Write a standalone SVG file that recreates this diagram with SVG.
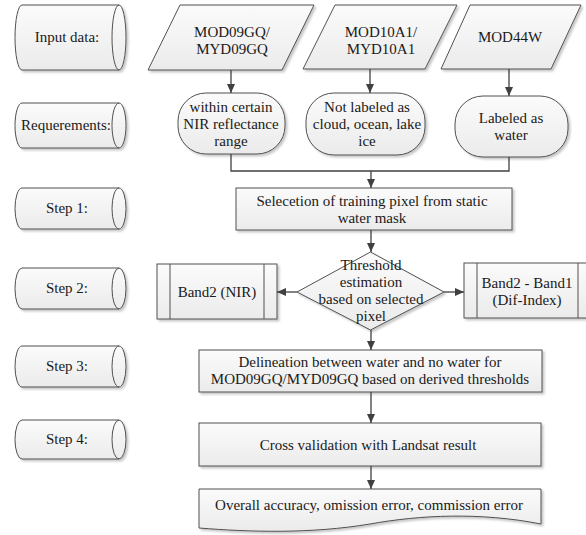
<svg xmlns="http://www.w3.org/2000/svg" width="586" height="535" viewBox="0 0 586 535" font-family="'Liberation Serif', 'Times New Roman', 'DejaVu Serif', serif">
<defs>
<linearGradient id="g" x1="0" y1="0" x2="0" y2="1">
<stop offset="0" stop-color="#fbfbfb"/>
<stop offset="1" stop-color="#ebebeb"/>
</linearGradient>
<filter id="sh" x="-10%" y="-10%" width="130%" height="130%">
<feDropShadow dx="2" dy="2" stdDeviation="1" flood-color="#000" flood-opacity="0.22"/>
</filter>
<marker id="ah" markerWidth="10" markerHeight="10" refX="9" refY="5" orient="auto" markerUnits="userSpaceOnUse">
<path d="M0,1 L9,5 L0,9 Z" fill="#404040"/>
</marker>
</defs>
<style>
.s{fill:url(#g);stroke:#505050;stroke-width:1;filter:url(#sh)}
.n{fill:none;stroke:#505050;stroke-width:1}
.c{fill:none;stroke:#404040;stroke-width:1.3}
.a{marker-end:url(#ah)}
text{font-family:'Liberation Serif','Times New Roman','DejaVu Serif',serif;font-size:15px;fill:#1a1a1a;text-anchor:middle}
</style>

<g id="lbl-input">
<path class="s" d="M22,5 H119 A7,32.5 0 0 1 119,70 H22 A7,32.5 0 0 1 22,5 Z"/>
<path class="n" d="M119,5 A7,32.5 0 0 0 119,70"/>
<text x="67" y="42">Input data:</text>
</g>
<g id="lbl-req">
<path class="s" d="M22,103 H119 A7,22.5 0 0 1 119,148 H22 A7,22.5 0 0 1 22,103 Z"/>
<path class="n" d="M119,103 A7,22.5 0 0 0 119,148"/>
<text x="66" y="130">Requerements:</text>
</g>
<g id="lbl-step1">
<path class="s" d="M22,188 H119 A7,20.5 0 0 1 119,229 H22 A7,20.5 0 0 1 22,188 Z"/>
<path class="n" d="M119,188 A7,20.5 0 0 0 119,229"/>
<text x="67" y="213">Step 1:</text>
</g>
<g id="lbl-step2">
<path class="s" d="M22,268 H119 A7,20.5 0 0 1 119,309 H22 A7,20.5 0 0 1 22,268 Z"/>
<path class="n" d="M119,268 A7,20.5 0 0 0 119,309"/>
<text x="67" y="293">Step 2:</text>
</g>
<g id="lbl-step3">
<path class="s" d="M22,346 H119 A7,20.5 0 0 1 119,387 H22 A7,20.5 0 0 1 22,346 Z"/>
<path class="n" d="M119,346 A7,20.5 0 0 0 119,387"/>
<text x="67" y="371">Step 3:</text>
</g>
<g id="lbl-step4">
<path class="s" d="M22,420 H119 A7,19.5 0 0 1 119,459 H22 A7,19.5 0 0 1 22,420 Z"/>
<path class="n" d="M119,420 A7,19.5 0 0 0 119,459"/>
<text x="67" y="444">Step 4:</text>
</g>

<g id="in1">
<polygon class="s" points="180,5 314,5 282,70 148,70"/>
<text x="232" y="37">MOD09GQ/</text>
<text x="232" y="54">MYD09GQ</text>
</g>
<g id="in2">
<polygon class="s" points="335,5 457,5 425,69 303,69"/>
<text x="381" y="37">MOD10A1/</text>
<text x="381" y="54">MYD10A1</text>
</g>
<g id="in3">
<polygon class="s" points="470,5 581,5 551,69 441,69"/>
<text x="510" y="42">MOD44W</text>
</g>

<g id="req1">
<rect class="s" x="178" y="93" width="107" height="61" rx="28"/>
<text x="231" y="112">within certain</text>
<text x="231" y="129">NIR reflectance</text>
<text x="231" y="146">range</text>
</g>
<g id="req2">
<rect class="s" x="306" y="93" width="119" height="62" rx="28"/>
<text x="367" y="112">Not labeled as</text>
<text x="367" y="129">cloud, ocean, lake</text>
<text x="367" y="146">ice</text>
</g>
<g id="req3">
<rect class="s" x="455" y="96" width="113" height="61" rx="28"/>
<text x="511" y="123">Labeled as</text>
<text x="511" y="140">water</text>
</g>

<g id="step1">
<rect class="s" x="236" y="188" width="276" height="42"/>
<text x="372" y="206">Selecetion of training pixel from static</text>
<text x="372" y="223">water mask</text>
</g>

<g id="decision">
<polygon class="s" points="370.5,252 444,292 370.5,330 297,292"/>
<text x="371" y="270">Threshold</text>
<text x="371" y="287">estimation</text>
<text x="371" y="304">based on selected</text>
<text x="371" y="321">pixel</text>
</g>

<g id="band-nir">
<rect class="s" x="157" y="264" width="120" height="55"/>
<line class="n" x1="170" y1="264" x2="170" y2="319"/>
<line class="n" x1="264" y1="264" x2="264" y2="319"/>
<text x="217" y="297">Band2 (NIR)</text>
</g>
<g id="band-dif">
<rect class="s" x="464" y="263" width="127" height="55"/>
<line class="n" x1="477" y1="263" x2="477" y2="318"/>
<line class="n" x1="578" y1="263" x2="578" y2="318"/>
<text x="527" y="288">Band2 - Band1</text>
<text x="527" y="305">(Dif-Index)</text>
</g>

<g id="step3">
<rect class="s" x="199" y="350" width="343" height="42"/>
<text x="370" y="367">Delineation between water and no water for</text>
<text x="370" y="384">MOD09GQ/MYD09GQ based on derived thresholds</text>
</g>
<g id="step4">
<rect class="s" x="199" y="423" width="342" height="43"/>
<text x="368" y="450">Cross validation with Landsat result</text>
</g>
<g id="result">
<path class="s" d="M199,489 H541 V524 C480,512 420,515 370,524 C310,534 250,532 199,528 Z"/>
<text x="369" y="510">Overall accuracy, omission error, commission error</text>
</g>

<g id="connectors">
<line class="c a" x1="231" y1="70" x2="231" y2="93"/>
<line class="c a" x1="370" y1="69" x2="370" y2="93"/>
<line class="c a" x1="509" y1="69" x2="509" y2="96"/>
<polyline class="c" points="231,154 231,171 509,171 509,157"/>
<line class="c a" x1="371" y1="171" x2="371" y2="188"/>
<line class="c a" x1="371" y1="230" x2="371" y2="252"/>
<line class="c a" x1="297" y1="292" x2="277" y2="292"/>
<line class="c a" x1="444" y1="292" x2="464" y2="292"/>
<line class="c a" x1="371" y1="330" x2="371" y2="350"/>
<line class="c a" x1="371" y1="392" x2="371" y2="423"/>
<line class="c a" x1="371" y1="466" x2="371" y2="489"/>
</g>
</svg>
